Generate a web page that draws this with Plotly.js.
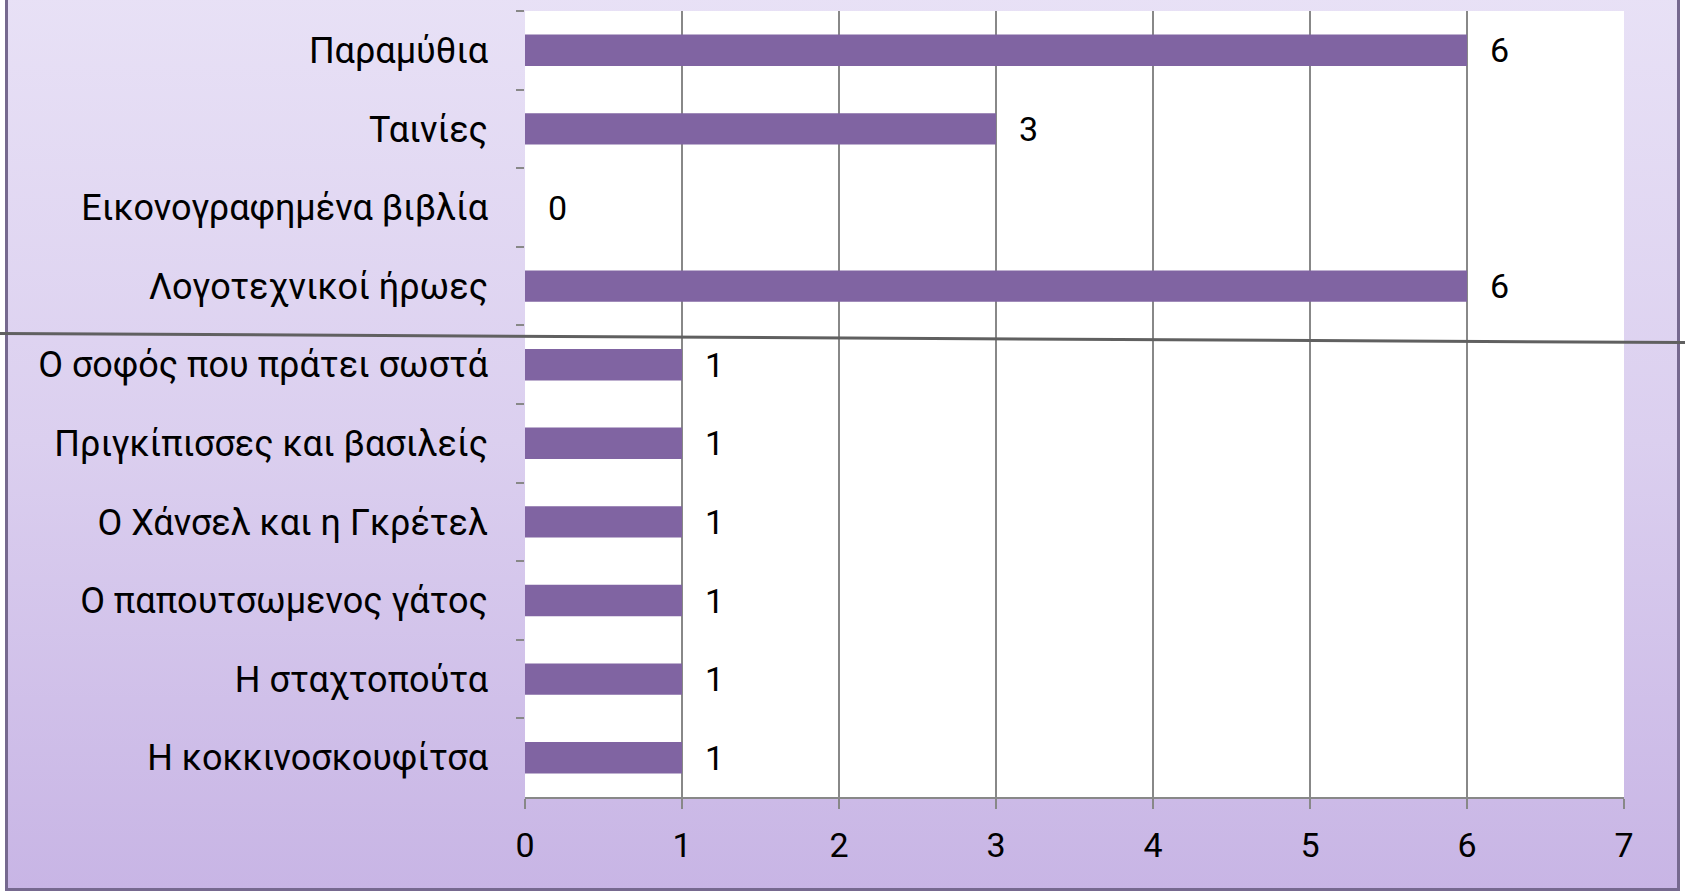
<!DOCTYPE html>
<html>
<head>
<meta charset="utf-8">
<script src="https://cdn.plot.ly/plotly-3.0.1.min.js"></script>
<style>
html,body{margin:0;padding:0;background:#ffffff;}
#wrap{position:relative;width:1685px;height:892px;background:#ffffff;overflow:hidden;}
#bg{position:absolute;left:5px;top:-10px;width:1669px;height:895px;border:3px solid #76698f;background:linear-gradient(to bottom,#E8E1F6 0%,#DBCFEF 50%,#C8B5E5 100%);}
#chart{position:absolute;left:0;top:0;width:1685px;height:892px;}
</style>
</head>
<body>
<div id="wrap"><div id="bg"></div><div id="chart"></div></div>
<script>
const categories = [
  "Παραμύθια",
  "Ταινίες",
  "Εικονογραφημένα βιβλία",
  "Λογοτεχνικοί ήρωες",
  "Ο σοφός που πράτει σωστά",
  "Πριγκίπισσες και βασιλείς",
  "Ο Χάνσελ και η Γκρέτελ",
  "Ο παπουτσωμενος γάτος",
  "Η σταχτοπούτα",
  "Η κοκκινοσκουφίτσα"
];
const values = [6, 3, 0, 6, 1, 1, 1, 1, 1, 1];
const xTicks = [0, 1, 2, 3, 4, 5, 6, 7];

const font = "Roboto, 'Open Sans', sans-serif";

const trace = {
  type: 'bar',
  orientation: 'h',
  x: values,
  y: categories,
  marker: {color: '#8064A2'},
  hoverinfo: 'x+y'
};

const annotations = values.map((v, i) => ({
  x: v, y: categories[i], xref: 'x', yref: 'y',
  text: String(v), showarrow: false, xanchor: 'left', xshift: 21,
  font: {family: font, size: 34, color: '#000'}
}));

const layout = {
  width: 1685, height: 892,
  margin: {l: 525, r: 61, t: 11, b: 95},
  paper_bgcolor: 'rgba(0,0,0,0)',
  plot_bgcolor: '#ffffff',
  bargap: 0.6,
  showlegend: false,
  xaxis: {
    range: [0, 7], tickvals: xTicks, ticktext: xTicks.map(String),
    showgrid: true, gridcolor: '#888888', gridwidth: 2,
    zeroline: false, showline: true, linecolor: '#888888', linewidth: 2,
    ticks: 'outside', ticklen: 10, tickwidth: 2, tickcolor: '#888888',
    ticklabelstandoff: 7,
    tickfont: {family: font, size: 34, color: '#000'},
    fixedrange: true
  },
  yaxis: {
    type: 'category', autorange: 'reversed',
    tickson: 'boundaries', ticks: 'outside', ticklen: 8, tickwidth: 2, tickcolor: '#888888',
    showgrid: false, showline: false, zeroline: false,
    ticklabelstandoff: 36,
    tickfont: {family: font, size: 36, color: '#000'},
    fixedrange: true
  },
  annotations: annotations,
  shapes: [{
    type: 'line', xref: 'paper', yref: 'paper',
    x0: -0.4777, x1: 1.0555, y0: 0.5897, y1: 0.5782,
    line: {color: '#606060', width: 3}
  }]
};

Plotly.newPlot('chart', [trace], layout, {displayModeBar: false, staticPlot: true});
</script>
</body>
</html>
